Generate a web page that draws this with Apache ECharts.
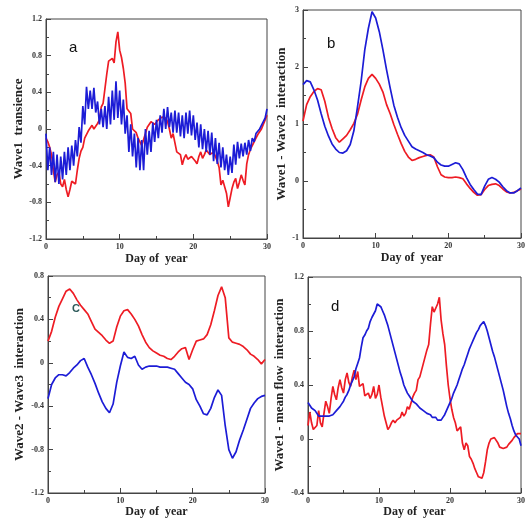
<!DOCTYPE html>
<html><head><meta charset="utf-8">
<script src="https://cdn.jsdelivr.net/npm/echarts@6/dist/echarts.min.js"></script>
<style>html,body{margin:0;padding:0;background:#fff}#c{width:528px;height:524px}</style>
</head><body><div id="c"></div>
<script>
// ---- data ----
const stepA = 0.25, stepB = 0.5, stepC = 0.5, stepD = 0.25;
const aRed = [-0.10,-0.14,-0.20,-0.28,-0.45,-0.58,-0.50,-0.47,-0.60,-0.63,-0.55,-0.66,-0.74,-0.66,-0.57,-0.58,-0.60,-0.45,-0.32,-0.24,
 -0.20,-0.10,-0.08,-0.02,0.00,0.04,0.00,0.03,0.06,0.10,0.24,0.28,0.30,0.60,0.74,0.72,0.77,0.72,0.95,1.06,
 0.86,0.78,0.66,0.50,0.22,0.20,0.17,0.00,-0.02,-0.04,-0.10,-0.14,-0.18,-0.19,-0.05,0.02,0.03,0.08,0.10,0.05,
 0.05,0.10,0.12,0.13,0.15,0.12,0.08,0.00,-0.10,-0.05,-0.06,-0.25,-0.24,-0.28,-0.39,-0.32,-0.28,-0.33,-0.35,-0.30,
 -0.28,-0.35,-0.38,-0.30,-0.25,-0.32,-0.28,-0.23,-0.25,-0.28,-0.27,-0.25,-0.30,-0.35,-0.42,-0.61,-0.56,-0.58,-0.70,-0.85,
 -0.75,-0.65,-0.58,-0.54,-0.65,-0.58,-0.50,-0.56,-0.61,-0.38,-0.28,-0.22,-0.18,-0.14,-0.10,-0.06,-0.03,0.00,0.05,0.10,0.15];
const aBlue = [-0.05,-0.45,-0.20,-0.50,-0.25,-0.58,-0.28,-0.60,-0.30,-0.55,-0.25,-0.50,-0.20,-0.45,-0.18,-0.40,-0.12,-0.30,0.02,-0.15,
 0.25,0.05,0.46,0.22,0.42,0.22,0.45,0.18,0.30,0.05,0.22,0.02,0.25,0.00,0.35,0.05,0.42,0.10,0.52,0.12,
 0.42,0.05,0.32,-0.05,0.15,-0.25,0.05,-0.30,-0.05,-0.42,-0.10,-0.45,-0.12,-0.45,0.00,-0.28,-0.02,-0.25,0.07,-0.14,
 0.10,-0.10,0.15,-0.04,0.22,0.00,0.24,0.02,0.18,-0.04,0.20,-0.04,0.18,-0.08,0.15,-0.10,0.18,-0.05,0.20,-0.07,
 0.15,-0.12,0.07,-0.20,0.05,-0.22,0.00,-0.25,-0.02,-0.28,-0.04,-0.35,-0.10,-0.38,-0.15,-0.42,-0.20,-0.45,-0.28,-0.50,
 -0.30,-0.48,-0.17,-0.39,-0.14,-0.32,-0.16,-0.30,-0.15,-0.28,-0.12,-0.24,-0.10,-0.14,-0.05,-0.07,0.00,-0.02,0.08,0.12,0.22];
const bBlue = [1.69,1.76,1.74,1.60,1.42,1.18,0.96,0.79,0.65,0.56,0.50,0.49,0.53,0.64,0.88,1.30,1.75,2.30,2.68,2.97,
 2.86,2.62,2.30,1.95,1.63,1.33,1.12,0.94,0.80,0.70,0.60,0.56,0.53,0.50,0.46,0.44,0.41,0.33,0.28,0.26,
 0.26,0.29,0.32,0.30,0.20,0.06,-0.06,-0.15,-0.23,-0.24,-0.09,0.03,0.06,0.03,-0.02,-0.10,-0.17,-0.21,-0.21,-0.17,-0.12];
const bRed = [1.05,1.34,1.48,1.57,1.62,1.60,1.40,1.12,0.92,0.76,0.68,0.74,0.80,0.90,1.01,1.17,1.42,1.65,1.80,1.87,
 1.80,1.70,1.56,1.34,1.18,0.99,0.82,0.66,0.52,0.42,0.36,0.38,0.41,0.43,0.45,0.46,0.42,0.25,0.11,0.07,
 0.06,0.06,0.07,0.06,0.04,-0.05,-0.13,-0.20,-0.25,-0.24,-0.15,-0.08,-0.06,-0.05,-0.08,-0.14,-0.19,-0.21,-0.20,-0.17,-0.14];
const cRed = [0.20,0.29,0.42,0.52,0.59,0.66,0.68,0.64,0.58,0.53,0.49,0.45,0.38,0.31,0.28,0.25,0.21,0.18,0.20,0.33,
 0.43,0.48,0.49,0.45,0.40,0.34,0.26,0.19,0.14,0.11,0.09,0.07,0.06,0.04,0.03,0.06,0.10,0.13,0.14,0.03,
 0.12,0.20,0.21,0.22,0.26,0.35,0.48,0.62,0.70,0.60,0.23,0.19,0.18,0.17,0.15,0.12,0.08,0.06,0.03,-0.01,0.03];
const cBlue = [-0.33,-0.20,-0.14,-0.11,-0.11,-0.12,-0.09,-0.05,-0.02,0.02,0.04,-0.04,-0.11,-0.19,-0.28,-0.36,-0.42,-0.46,-0.38,-0.18,
 -0.03,0.10,0.05,0.04,0.06,-0.02,-0.06,-0.04,-0.03,-0.03,-0.03,-0.04,-0.04,-0.04,-0.05,-0.06,-0.10,-0.14,-0.18,-0.20,
 -0.24,-0.34,-0.40,-0.47,-0.48,-0.42,-0.32,-0.25,-0.30,-0.58,-0.80,-0.88,-0.82,-0.71,-0.62,-0.52,-0.42,-0.37,-0.33,-0.31,-0.30];
const dBlue = [0.27,0.25,0.23,0.22,0.21,0.20,0.17,0.18,0.17,0.16,0.17,0.16,0.17,0.18,0.18,0.19,0.21,0.22,0.24,0.26,
 0.28,0.31,0.33,0.36,0.40,0.43,0.46,0.52,0.56,0.60,0.68,0.75,0.77,0.80,0.82,0.87,0.90,0.91,0.95,1.00,
 1.01,0.98,0.95,0.92,0.88,0.84,0.79,0.74,0.69,0.64,0.59,0.54,0.49,0.45,0.40,0.37,0.34,0.32,0.30,0.28,
 0.27,0.26,0.25,0.23,0.22,0.21,0.20,0.19,0.18,0.18,0.16,0.17,0.16,0.14,0.13,0.14,0.16,0.18,0.21,0.24,
 0.27,0.30,0.34,0.37,0.40,0.44,0.48,0.52,0.55,0.59,0.63,0.67,0.70,0.73,0.76,0.79,0.81,0.84,0.85,0.87,
 0.84,0.80,0.75,0.70,0.65,0.61,0.56,0.51,0.46,0.41,0.36,0.30,0.24,0.19,0.15,0.10,0.06,0.03,0.02,0.00,-0.05];
const dRed = [0.10,0.20,0.12,0.07,0.08,0.10,0.21,0.12,0.09,0.19,0.28,0.24,0.19,0.30,0.39,0.33,0.29,0.38,0.44,0.38,
 0.34,0.44,0.49,0.42,0.39,0.46,0.51,0.44,0.50,0.39,0.38,0.41,0.32,0.31,0.34,0.30,0.33,0.39,0.30,0.33,
 0.40,0.31,0.24,0.17,0.12,0.07,0.09,0.12,0.14,0.12,0.14,0.13,0.16,0.20,0.17,0.19,0.24,0.22,0.23,0.31,
 0.34,0.36,0.44,0.46,0.46,0.56,0.61,0.66,0.70,0.85,0.98,0.94,0.93,1.00,1.05,0.88,0.78,0.70,0.54,0.40,
 0.30,0.22,0.16,0.12,0.06,0.07,0.09,-0.03,-0.08,-0.03,-0.05,-0.13,-0.15,-0.18,-0.22,-0.25,-0.28,-0.29,-0.29,-0.25,
 -0.17,-0.08,-0.03,0.00,0.01,0.01,0.00,-0.03,-0.06,-0.07,-0.07,-0.07,-0.06,-0.04,-0.03,-0.01,0.01,0.02,0.04,0.05,0.04];
const yTitles = ['Wave1  transience','Wave1 - Wave2  interaction','Wave2 - Wave3  interaction','Wave1 - mean flow  interaction'];
const xTitle = 'Day of  year';
const letters = ['a','b','c','d'];
const yRanges = [[-1.2,1.2,0.4],[-1,3,1],[-1.2,0.8,0.4],[-0.4,1.2,0.4]];

// ---- layout ----
const grids = [
  {left:46, top:19, width:221, height:220},
  {left:303, top:10, width:227, height:228},
  {left:48, top:276, width:217, height:217},
  {left:308, top:277, width:217, height:216}
];
const xNameGaps = [14, 14, 9, 9];
const yNameGaps = [20, 13, 22, 22];
const RED = '#ee1c24', BLUE = '#1c1cd6', AX = '#444';
const serif = '"Liberation Serif","DejaVu Serif",serif';
function pairs(arr, step){ return arr.map((v,i)=>[i*step, v]); }
const seriesSets = [
  [[aRed,stepA],[aBlue,stepA]],
  [[bRed,stepB],[bBlue,stepB]],
  [[cRed,stepC],[cBlue,stepC]],
  [[dRed,stepD],[dBlue,stepD]]
];
const xAxis = [], yAxis = [], series = [];
grids.forEach((g,i)=>{
  g.show = true; g.borderColor = AX; g.borderWidth = 1;
  xAxis.push({type:'value', gridIndex:i, min:0, max:30, interval:10,
    name:xTitle, nameLocation:'middle', nameGap:xNameGaps[i],
    nameTextStyle:{fontFamily:serif, fontWeight:'bold', fontSize:12, color:'#222'},
    axisLine:{onZero:false, lineStyle:{color:AX}}, axisTick:{inside:true, length:5, lineStyle:{color:AX}},
    minorTick:{show:true, splitNumber:2, length:3, lineStyle:{color:AX}},
    splitLine:{show:false},
    axisLabel:{fontFamily:serif, fontWeight:'bold', fontSize:8, color:'#333', margin:4}});
  const r = yRanges[i];
  yAxis.push({type:'value', gridIndex:i, min:r[0], max:r[1], interval:r[2],
    name:yTitles[i], nameLocation:'middle', nameGap:yNameGaps[i], nameRotate:90,
    nameTextStyle:{fontFamily:serif, fontWeight:'bold', fontSize:13, color:'#222'},
    axisLine:{onZero:false, lineStyle:{color:AX}}, axisTick:{inside:true, length:5, lineStyle:{color:AX}},
    minorTick:{show:true, splitNumber:2, length:3, lineStyle:{color:AX}},
    splitLine:{show:false},
    axisLabel:{fontFamily:serif, fontWeight:'bold', fontSize:8, color:'#333', margin:4,
      formatter:v=>String(+v.toFixed(1))}});
  seriesSets[i].forEach((s,k)=>{
    series.push({type:'line', xAxisIndex:i, yAxisIndex:i, data:pairs(s[0],s[1]),
      showSymbol:false, symbol:'none', lineStyle:{width:1.7, color:k===0?RED:BLUE}, color:k===0?RED:BLUE,
      animation:false});
  });
});
const titles = [
  {text:'a', left:64, top:35, textStyle:{fontFamily:'"Liberation Sans",Arial,sans-serif', fontWeight:'normal', fontSize:15, color:'#111'}},
  {text:'b', left:322, top:31, textStyle:{fontFamily:'"Liberation Sans",Arial,sans-serif', fontWeight:'normal', fontSize:15, color:'#111'}},
  {text:'C', left:67, top:298, textStyle:{fontFamily:'"Liberation Sans",Arial,sans-serif', fontWeight:'bold', fontSize:11, color:'#2e5a5a'}},
  {text:'d', left:326, top:294, textStyle:{fontFamily:'"Liberation Sans",Arial,sans-serif', fontWeight:'normal', fontSize:15, color:'#111'}}
];
const chart = echarts.init(document.getElementById('c'), null, {renderer:'canvas'});
chart.setOption({backgroundColor:'#fff', animation:false, title:titles, grid:grids, xAxis, yAxis, series});
</script></body></html>
